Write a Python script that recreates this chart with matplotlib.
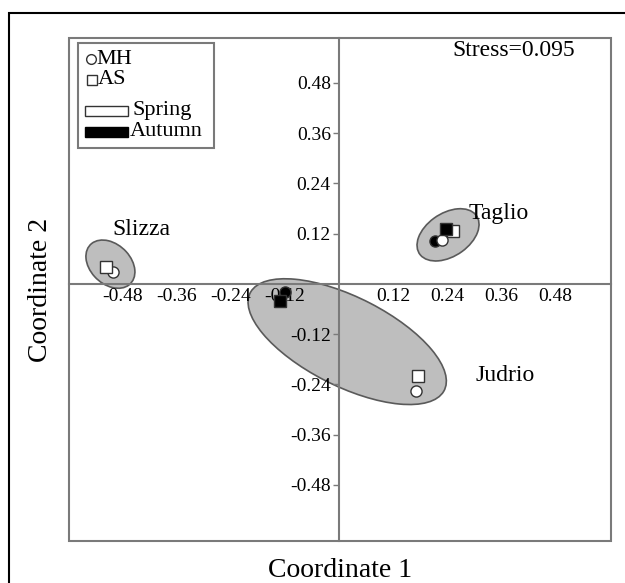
import matplotlib
matplotlib.use("Agg")
import matplotlib.pyplot as plt
from matplotlib.patches import Ellipse, Rectangle
from matplotlib.lines import Line2D

plt.rcParams['font.family'] = ['Liberation Serif', 'DejaVu Serif']
plt.rcParams['axes.unicode_minus'] = False

# NMDS scores
sites = ["Slizza", "Taglio", "Judrio"]

mh_spring_x = [-0.502, 0.229, 0.170]
mh_spring_y = [0.029, 0.105, -0.257]
as_spring_x = [-0.518, 0.253, 0.175]
as_spring_y = [0.040, 0.126, -0.220]
mh_autumn_x = [0.212, -0.120]
mh_autumn_y = [0.102, -0.019]
as_autumn_x = [0.238, -0.131]
as_autumn_y = [0.131, -0.041]

# ellipses: centre x, centre y, width, height, angle
ell_x = [-0.508, 0.242, 0.018]
ell_y = [0.047, 0.117, -0.138]
ell_w = [0.129, 0.156, 0.49]
ell_h = [0.092, 0.101, 0.21]
ell_ang = [-50, 38, -29]

label_x = [-0.504, 0.287, 0.302]
label_y = [0.129, 0.167, -0.220]

stress = 0.095
ticks = [-0.48, -0.36, -0.24, -0.12, 0.12, 0.24, 0.36, 0.48]
tick_labels = ['%.2f' % t for t in ticks]

W, H = 625, 583
fig = plt.figure(figsize=(W / 100, H / 100), dpi=100)
ax = fig.add_axes([69 / W, 1 - 541 / H, 542 / W, 503 / H])
ax.set_xlim(-0.600, 0.604)
ax.set_ylim(-0.614, 0.587)

gray = '#7a7a7a'

for i in range(len(sites)):
    e = Ellipse((ell_x[i], ell_y[i]), ell_w[i], ell_h[i], angle=ell_ang[i],
                facecolor='#bebebe', edgecolor='#5a5a5a', lw=1.2, zorder=1)
    ax.add_patch(e)
    ax.text(label_x[i], label_y[i], sites[i], fontsize=17, va='center', ha='left')

mk = dict(markersize=8, markeredgecolor='#333333', markeredgewidth=1.0, linestyle='none', zorder=3)
ax.plot(mh_autumn_x, mh_autumn_y, 'o', markerfacecolor='black', **mk)
ax.plot(mh_spring_x, mh_spring_y, 'o', markerfacecolor='white', **mk)
ax.plot(as_spring_x, as_spring_y, 's', markerfacecolor='white', **mk)
ax.plot(as_autumn_x, as_autumn_y, 's', markerfacecolor='black', **mk)

ax.text(0.251, 0.556, 'Stress=%.3f' % stress, fontsize=17, va='center', ha='left')

# axes crossing at zero, plus outer frame
ax.spines['left'].set_position(('data', 0))
ax.spines['bottom'].set_position(('data', 0))
for s in ['top', 'right']:
    ax.spines[s].set_visible(False)
for s in ['left', 'bottom']:
    ax.spines[s].set_color(gray)
    ax.spines[s].set_linewidth(1.5)
ax.add_patch(Rectangle((0, 0), 1, 1, transform=ax.transAxes, fill=False,
                       edgecolor=gray, lw=1.5, clip_on=False, zorder=5))

ax.set_xticks(ticks)
ax.set_xticklabels(tick_labels)
ax.set_yticks(ticks)
ax.set_yticklabels(tick_labels)
ax.tick_params(axis='x', length=0, pad=3, labelsize=14)
ax.tick_params(axis='y', length=4, width=1, color=gray, pad=2, labelsize=14)

ax.set_xlabel('Coordinate 1', fontsize=20)
ax.xaxis.set_label_coords(0.5, -0.034)
ax.set_ylabel('Coordinate 2', fontsize=20, va='center')
ax.yaxis.set_label_coords(-0.053, 0.5)

# legend drawn by hand in figure pixels
def px(x, y):
    return x / W, 1 - y / H

tf = fig.transFigure
fig.patches.append(Rectangle(px(78, 148), 136 / W, 105 / H, transform=tf,
                             fill=False, edgecolor=gray, lw=1.5))
fig.lines.append(Line2D([px(91, 59)[0]], [px(91, 59)[1]], transform=tf, marker='o',
                        markersize=7, markerfacecolor='white', markeredgecolor='#333333'))
fig.lines.append(Line2D([px(92, 80)[0]], [px(92, 80)[1]], transform=tf, marker='s',
                        markersize=7, markerfacecolor='white', markeredgecolor='#333333'))
fig.patches.append(Rectangle(px(85, 116), 43 / W, 10 / H, transform=tf,
                             facecolor='white', edgecolor='#333333', lw=1))
fig.patches.append(Rectangle(px(85, 137), 43 / W, 10 / H, transform=tf,
                             facecolor='black', edgecolor='black', lw=1))
for txt, x, y in [('MH', 96, 59), ('AS', 98, 80), ('Spring', 133, 110), ('Autumn', 130, 132)]:
    fig.text(*px(x, y), txt, fontsize=16, va='center', ha='left')

# outer figure border (left and top visible)
fig.patches.append(Rectangle(px(9, 640), 2, (640 - 13) / H, transform=tf,
                             fill=False, edgecolor='black', lw=1.5))

fig.savefig('out.png', dpi=100)
